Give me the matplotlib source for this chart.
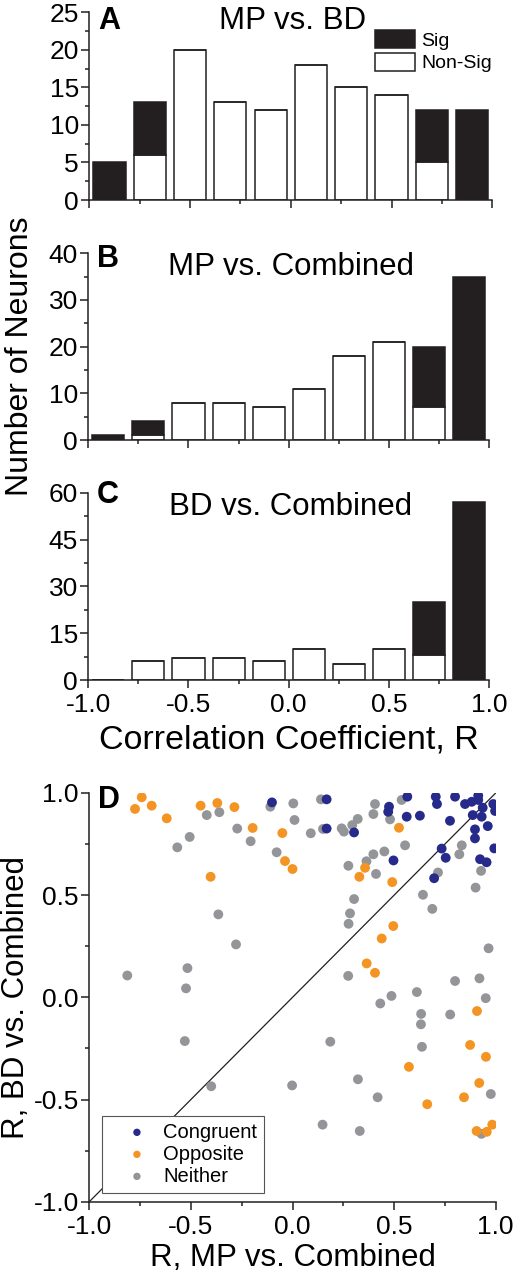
import matplotlib
matplotlib.use("Agg")
import matplotlib.pyplot as plt
from matplotlib.ticker import MultipleLocator

plt.rcParams['font.family'] = ['Liberation Sans', 'DejaVu Sans']
plt.rcParams['axes.unicode_minus'] = False

# ---------------- data ----------------
bin_centers = [-0.9, -0.7, -0.5, -0.3, -0.1, 0.1, 0.3, 0.5, 0.7, 0.9]

A_nonsig = [0, 6, 20, 13, 12, 18, 15, 14, 5, 0]
A_sig = [5, 7, 0, 0, 0, 0, 0, 0, 7, 12]

B_nonsig = [0, 1, 8, 8, 7, 11, 18, 21, 7, 0]
B_sig = [1, 3, 0, 0, 0, 0, 0, 0, 13, 35]

C_nonsig = [0, 6, 7, 7, 6, 10, 5, 10, 8, 0]
C_sig = [0, 0, 0, 0, 0, 0, 0, 0, 17, 57]

titles = ["MP vs. BD", "MP vs. Combined", "BD vs. Combined"]
letters = ["A", "B", "C"]

congruent_x = [-0.101, 0.168, 0.168, 0.303, 0.475, 0.471, 0.565, 0.562, 0.627, 0.705,
               0.711, 0.800, 0.775, 0.849, 0.882, 0.914, 0.914, 0.988, 0.997, 0.936,
               0.887, 0.931, 0.961, 0.898, 0.898, 0.993, 0.734, 0.754, 0.923, 0.955,
               0.497, 0.697]
congruent_y = [0.954, 0.969, 0.826, 0.807, 0.933, 0.908, 0.982, 0.884, 0.889, 0.982,
               0.946, 0.982, 0.864, 0.946, 0.957, 0.987, 0.966, 0.946, 0.912, 0.928,
               0.892, 0.884, 0.838, 0.822, 0.778, 0.729, 0.728, 0.683, 0.676, 0.661,
               0.670, 0.583]

opposite_x = [-0.742, -0.775, -0.693, -0.619, -0.452, -0.370, -0.286, -0.196, -0.050, -0.037,
              0.000, -0.403, 0.524, 0.357, 0.329, 0.491, 0.496, 0.439, 0.365, 0.406,
              0.908, 0.874, 0.952, 0.573, 0.919, 0.844, 0.663, 0.983, 0.906, 0.956]
opposite_y = [0.979, 0.922, 0.938, 0.876, 0.938, 0.951, 0.931, 0.829, 0.804, 0.667,
              0.628, 0.590, 0.830, 0.634, 0.590, 0.564, 0.349, 0.288, 0.166, 0.120,
              -0.067, -0.233, -0.291, -0.340, -0.419, -0.489, -0.523, -0.623, -0.654, -0.658]

neither_x = [-0.422, -0.360, -0.272, -0.506, -0.567, -0.206, -0.078, -0.109, 0.004, 0.010,
             0.140, 0.090, 0.242, 0.253, 0.294, 0.321, 0.406, 0.398, 0.480, 0.537,
             0.554, 0.398, 0.452, 0.364, 0.275, 0.411, 0.833, 0.821, 0.928, 0.716,
             0.901, -0.813, -0.517, -0.365, -0.278, 0.303, 0.283, 0.276, 0.642, 0.688,
             0.965, 0.274, 0.800, 0.920, -0.524, 0.487, 0.432, 0.612, 0.951, 0.633,
             0.776, 0.632, -0.530, 0.186, 0.637, -0.400, -0.002, 0.322, 0.419, 0.976,
             0.148, 0.331, 0.930, 0.150]
neither_y = [0.892, 0.906, 0.826, 0.785, 0.734, 0.764, 0.710, 0.933, 0.949, 0.868,
             0.969, 0.803, 0.827, 0.811, 0.843, 0.873, 0.946, 0.897, 0.871, 0.966,
             0.744, 0.700, 0.714, 0.666, 0.644, 0.604, 0.744, 0.700, 0.619, 0.611,
             0.537, 0.107, 0.143, 0.406, 0.259, 0.481, 0.411, 0.360, 0.502, 0.433,
             0.240, 0.105, 0.080, 0.093, 0.044, 0.007, -0.030, 0.026, -0.004, -0.081,
             -0.084, -0.132, -0.214, -0.217, -0.242, -0.435, -0.431, -0.401, -0.489, -0.473,
             -0.623, -0.654, -0.668, 0.824]

# ---------------- styling ----------------
BLACK = '#231f20'
C_BLUE = '#262a8a'
C_ORANGE = '#f39423'
C_GRAY = '#939598'
TICK_FS = 19
LABEL_FS = 22.5

W, H = 515, 1280
fig = plt.figure(figsize=(W / 100, H / 100), dpi=100)


def add_ax(l, t, r, b):
    return fig.add_axes([l / W, 1 - b / H, (r - l) / W, (b - t) / H])


def style(ax):
    for s in ['top', 'right']:
        ax.spines[s].set_visible(False)
    for s in ['left', 'bottom']:
        ax.spines[s].set_linewidth(1.1)
        ax.spines[s].set_color(BLACK)
    ax.tick_params(which='major', direction='out', length=5.5, width=1.1,
                   labelsize=TICK_FS, pad=2, color=BLACK)
    ax.tick_params(which='minor', direction='out', length=3, width=1.1, color=BLACK)
    ax.tick_params(axis='x', which='major', pad=4)


axA = add_ax(89.3, 12.3, 492.3, 200)
axB = add_ax(88.3, 253.3, 489.0, 440)
axC = add_ax(88.3, 492.7, 489.0, 680)
axD = add_ax(89.3, 793, 495.7, 1201.7)

hist_axes = [axA, axB, axC]
nonsigs = [A_nonsig, B_nonsig, C_nonsig]
sigs = [A_sig, B_sig, C_sig]
ymax = [25, 40, 60]
ymaj = [5, 10, 15]
title_y = [0.911, 0.884, 0.881]
letter_y = [0.911, 0.928, 0.947]

for i, ax in enumerate(hist_axes):
    style(ax)
    ax.bar(bin_centers, nonsigs[i], width=0.16, color='white', edgecolor=BLACK,
           linewidth=1.1, label='Non-Sig', zorder=2)
    ax.bar(bin_centers, sigs[i], width=0.16, bottom=nonsigs[i], color=BLACK,
           edgecolor=BLACK, linewidth=1.1, label='Sig', zorder=2)
    ax.set_xlim(-1, 1)
    ax.set_ylim(0, ymax[i])
    ax.xaxis.set_major_locator(MultipleLocator(0.5))
    ax.xaxis.set_minor_locator(MultipleLocator(0.25))
    ax.yaxis.set_major_locator(MultipleLocator(ymaj[i]))
    ax.yaxis.set_minor_locator(MultipleLocator(ymaj[i] / 2))
    ax.text(0.505, title_y[i], titles[i], transform=ax.transAxes, ha='center',
            va='baseline', fontsize=LABEL_FS)
    ax.text(0.022, letter_y[i], letters[i], transform=ax.transAxes, ha='left',
            va='baseline', fontsize=22, fontweight='bold')
    if i < 2:
        ax.tick_params(axis='x', labelbottom=False)
    else:
        ax.xaxis.set_major_formatter(plt.FormatStrFormatter('%.1f'))
        ax.set_xlabel("Correlation Coefficient, R", fontsize=24.5, labelpad=5)

# legend for panel A
h, l = axA.get_legend_handles_labels()
axA.legend([h[1], h[0]], [l[1], l[0]], loc='upper left', bbox_to_anchor=(0.708, 0.905),
           frameon=False, fontsize=14, handlelength=2.1, handleheight=1.05,
           handletextpad=0.3, labelspacing=0.15, borderpad=0, borderaxespad=0)

fig.text(20 / W, 1 - 356 / H, "Number of Neurons", rotation=90, ha='center',
         va='center', fontsize=23)

# ---------------- panel D ----------------
style(axD)
axD.plot([-1, 1], [-1, 1], color=BLACK, linewidth=0.9, zorder=2)
axD.scatter(neither_x, neither_y, s=50, color=C_GRAY, edgecolors='none', zorder=3, label='Neither')
axD.scatter(opposite_x, opposite_y, s=50, color=C_ORANGE, edgecolors='none', zorder=3, label='Opposite')
axD.scatter(congruent_x, congruent_y, s=50, color=C_BLUE, edgecolors='none', zorder=3, label='Congruent')
axD.set_xlim(-1, 1)
axD.set_ylim(-1, 1)
for axis in (axD.xaxis, axD.yaxis):
    axis.set_major_locator(MultipleLocator(0.5))
    axis.set_minor_locator(MultipleLocator(0.25))
    axis.set_major_formatter(plt.FormatStrFormatter('%.1f'))
axD.set_xlabel("R, MP vs. Combined", fontsize=LABEL_FS, labelpad=3)
axD.set_ylabel("R, BD vs. Combined", fontsize=LABEL_FS, labelpad=2)
axD.text(0.022, 0.963, "D", transform=axD.transAxes, ha='left', va='baseline',
         fontsize=22, fontweight='bold')

hD, lD = axD.get_legend_handles_labels()
legD = axD.legend([hD[2], hD[1], hD[0]], [lD[2], lD[1], lD[0]], loc='lower left',
                  bbox_to_anchor=(0.0305, 0.022), borderaxespad=0, fontsize=14.5,
                  markerscale=0.75, scatterpoints=1, handlelength=2.8, handletextpad=-0.1,
                  borderpad=0.35, labelspacing=0.15, fancybox=False, framealpha=1,
                  edgecolor='#555555')
legD.get_frame().set_linewidth(0.8)

fig.savefig("out.png", dpi=100)
